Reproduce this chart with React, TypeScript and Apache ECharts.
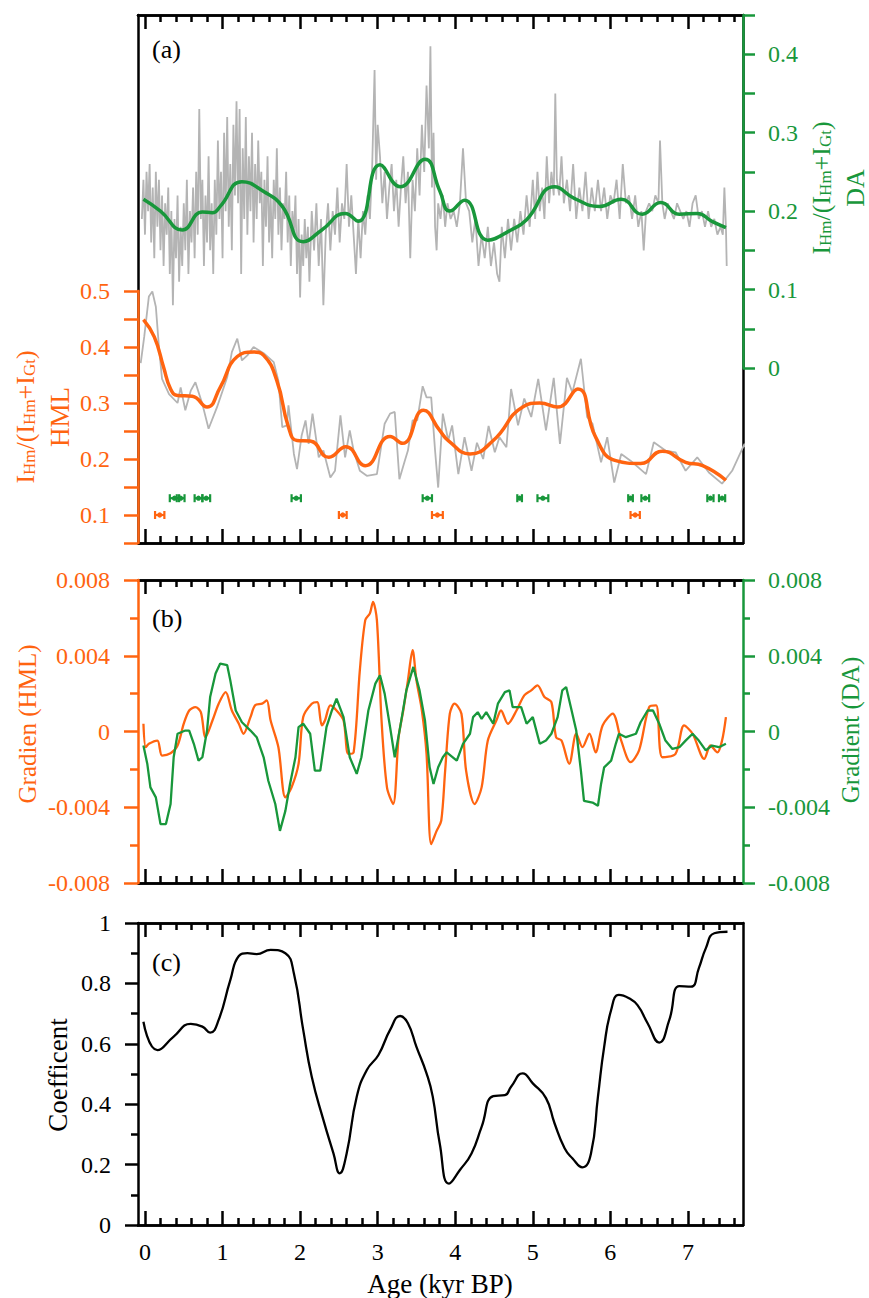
import React, { useEffect, useRef } from 'react';
import * as echarts from 'echarts';

const FONT = "'Liberation Serif', 'Times New Roman', Times, 'DejaVu Serif', serif";
const ORANGE = '#ff6410';
const GREEN = '#18973b';
const GRAY = '#b4b4b4';
const BLACK = '#000000';

const X_MIN = -0.09;
const X_MAX = 7.71;
const X_MAJOR = [0, 1, 2, 3, 4, 5, 6, 7];
const X_MINOR = [0.2, 0.4, 0.6, 0.8, 1.2, 1.4, 1.6, 1.8, 2.2, 2.4, 2.6, 2.8, 3.2, 3.4, 3.6, 3.8, 4.2, 4.4, 4.6, 4.8, 5.2, 5.4, 5.6, 5.8, 6.2, 6.4, 6.6, 6.8, 7.2, 7.4, 7.6];
const HML_LABELS = [0.1, 0.2, 0.3, 0.4, 0.5];
const DA_LABELS = [0, 0.1, 0.2, 0.3, 0.4];

// Panel (a): DA raw (grey, right green axis)
const DA_RAW: number[][] = [
  [-0.04, 0.19], [-0.02, 0.24], [0.0, 0.17], [0.02, 0.25], [0.04, 0.2], [0.06, 0.26], [0.08, 0.16], [0.1, 0.23], [0.12, 0.14], [0.14, 0.25],
  [0.16, 0.18], [0.18, 0.24], [0.2, 0.15], [0.22, 0.22], [0.24, 0.13], [0.26, 0.21], [0.28, 0.17], [0.3, 0.23], [0.32, 0.12], [0.34, 0.2],
  [0.36, 0.08], [0.38, 0.19], [0.4, 0.14], [0.42, 0.22], [0.44, 0.11], [0.46, 0.18], [0.48, 0.13], [0.5, 0.21], [0.52, 0.15], [0.54, 0.24],
  [0.56, 0.12], [0.58, 0.2], [0.6, 0.16], [0.62, 0.23], [0.64, 0.14], [0.66, 0.25], [0.68, 0.17], [0.7, 0.33], [0.72, 0.19], [0.74, 0.24],
  [0.76, 0.13], [0.78, 0.22], [0.8, 0.16], [0.82, 0.27], [0.84, 0.15], [0.86, 0.21], [0.88, 0.12], [0.9, 0.24], [0.92, 0.17], [0.94, 0.29],
  [0.96, 0.19], [0.98, 0.25], [1.0, 0.14], [1.02, 0.3], [1.04, 0.2], [1.06, 0.32], [1.08, 0.18], [1.1, 0.26], [1.12, 0.15], [1.14, 0.31],
  [1.16, 0.22], [1.18, 0.34], [1.2, 0.21], [1.22, 0.33], [1.24, 0.12], [1.26, 0.28], [1.28, 0.19], [1.3, 0.32], [1.32, 0.17], [1.34, 0.27],
  [1.36, 0.2], [1.38, 0.3], [1.4, 0.16], [1.42, 0.26], [1.44, 0.19], [1.46, 0.29], [1.48, 0.21], [1.5, 0.25], [1.52, 0.13], [1.54, 0.24],
  [1.56, 0.18], [1.58, 0.27], [1.6, 0.16], [1.62, 0.22], [1.64, 0.14], [1.66, 0.24], [1.68, 0.19], [1.7, 0.28], [1.72, 0.17], [1.74, 0.23],
  [1.76, 0.15], [1.78, 0.21], [1.8, 0.19], [1.82, 0.25], [1.84, 0.16], [1.86, 0.22], [1.88, 0.13], [1.9, 0.2], [1.92, 0.17], [1.94, 0.22],
  [1.96, 0.12], [1.98, 0.19], [2.0, 0.09], [2.02, 0.17], [2.04, 0.13], [2.06, 0.19], [2.08, 0.14], [2.1, 0.18], [2.12, 0.11], [2.15, 0.2],
  [2.18, 0.15], [2.21, 0.21], [2.24, 0.13], [2.27, 0.19], [2.3, 0.08], [2.33, 0.17], [2.36, 0.21], [2.39, 0.15], [2.42, 0.2], [2.45, 0.17],
  [2.48, 0.23], [2.51, 0.16], [2.54, 0.21], [2.57, 0.19], [2.6, 0.26], [2.63, 0.18], [2.66, 0.22], [2.69, 0.17], [2.72, 0.12], [2.75, 0.19],
  [2.78, 0.14], [2.81, 0.2], [2.84, 0.17], [2.87, 0.22], [2.9, 0.19], [2.93, 0.26], [2.96, 0.38], [2.98, 0.24], [3.0, 0.31], [3.03, 0.27],
  [3.06, 0.21], [3.09, 0.25], [3.12, 0.19], [3.15, 0.23], [3.18, 0.26], [3.21, 0.2], [3.24, 0.24], [3.27, 0.18], [3.3, 0.23], [3.33, 0.27],
  [3.36, 0.21], [3.39, 0.25], [3.42, 0.14], [3.45, 0.24], [3.48, 0.2], [3.51, 0.28], [3.54, 0.22], [3.57, 0.31], [3.6, 0.25], [3.63, 0.36],
  [3.66, 0.28], [3.68, 0.41], [3.7, 0.23], [3.72, 0.3], [3.74, 0.18], [3.76, 0.15], [3.78, 0.21], [3.81, 0.19], [3.84, 0.22], [3.87, 0.18],
  [3.9, 0.21], [3.94, 0.19], [3.98, 0.2], [4.02, 0.18], [4.06, 0.21], [4.1, 0.28], [4.14, 0.21], [4.18, 0.2], [4.22, 0.16], [4.26, 0.19],
  [4.3, 0.13], [4.34, 0.17], [4.38, 0.14], [4.42, 0.18], [4.46, 0.13], [4.5, 0.16], [4.54, 0.12], [4.57, 0.11], [4.6, 0.18], [4.64, 0.14],
  [4.68, 0.19], [4.72, 0.15], [4.76, 0.19], [4.8, 0.16], [4.84, 0.2], [4.88, 0.17], [4.92, 0.22], [4.96, 0.18], [5.0, 0.24], [5.03, 0.19],
  [5.06, 0.25], [5.09, 0.2], [5.12, 0.23], [5.15, 0.19], [5.18, 0.27], [5.21, 0.21], [5.24, 0.25], [5.27, 0.22], [5.29, 0.35], [5.31, 0.24],
  [5.34, 0.22], [5.37, 0.27], [5.4, 0.21], [5.44, 0.24], [5.48, 0.2], [5.52, 0.26], [5.56, 0.19], [5.6, 0.23], [5.64, 0.2], [5.68, 0.25],
  [5.72, 0.19], [5.76, 0.23], [5.8, 0.2], [5.84, 0.24], [5.88, 0.2], [5.92, 0.23], [5.96, 0.19], [6.0, 0.22], [6.04, 0.21], [6.08, 0.24],
  [6.12, 0.19], [6.16, 0.26], [6.2, 0.21], [6.24, 0.22], [6.28, 0.19], [6.32, 0.22], [6.36, 0.18], [6.4, 0.2], [6.43, 0.15], [6.46, 0.2],
  [6.5, 0.21], [6.54, 0.2], [6.58, 0.22], [6.62, 0.21], [6.64, 0.29], [6.67, 0.21], [6.7, 0.19], [6.74, 0.21], [6.78, 0.2], [6.82, 0.19],
  [6.86, 0.21], [6.9, 0.2], [6.94, 0.19], [6.98, 0.2], [7.02, 0.18], [7.06, 0.21], [7.1, 0.22], [7.14, 0.19], [7.18, 0.2], [7.22, 0.18],
  [7.26, 0.2], [7.3, 0.18], [7.34, 0.19], [7.38, 0.17], [7.42, 0.18], [7.45, 0.17], [7.47, 0.23], [7.49, 0.18], [7.5, 0.13],
];

const DA_SMOOTH: number[][] = [
  [-0.02, 0.215], [0.2, 0.2], [0.48, 0.176], [0.74, 0.199], [0.87, 0.198], [0.97, 0.206], [1.25, 0.2375], [1.53, 0.225], [1.77, 0.206],
  [2.04, 0.161], [2.28, 0.176], [2.58, 0.197], [2.75, 0.187], [3.03, 0.259], [3.29, 0.231], [3.61, 0.266], [3.8, 0.226], [3.93, 0.2],
  [4.12, 0.214], [4.42, 0.163], [4.72, 0.176], [4.92, 0.189], [5.28, 0.231], [5.54, 0.216], [5.86, 0.206], [6.14, 0.215], [6.41, 0.196],
  [6.65, 0.211], [6.89, 0.196], [7.12, 0.197], [7.31, 0.187], [7.49, 0.179],
];

// Panel (a): HML raw (grey, left orange axis)
const HML_RAW: number[][] = [
  [-0.055, 0.371], [-0.01, 0.418], [0.05, 0.49], [0.095, 0.499], [0.14, 0.472], [0.18, 0.4], [0.22, 0.343], [0.31, 0.316], [0.42, 0.3],
  [0.46, 0.328], [0.52, 0.287], [0.59, 0.322], [0.65, 0.337], [0.74, 0.298], [0.82, 0.254], [0.93, 0.293], [1.06, 0.346], [1.12, 0.391],
  [1.19, 0.415], [1.25, 0.376], [1.32, 0.385], [1.4, 0.4], [1.53, 0.389], [1.66, 0.373], [1.72, 0.34], [1.77, 0.257], [1.83, 0.26],
  [1.85, 0.296], [1.92, 0.209], [1.96, 0.182], [2.02, 0.242], [2.07, 0.269], [2.11, 0.227], [2.16, 0.281], [2.24, 0.203], [2.3, 0.215],
  [2.39, 0.167], [2.45, 0.179], [2.52, 0.278], [2.58, 0.203], [2.64, 0.251], [2.69, 0.215], [2.77, 0.179], [2.86, 0.17], [2.99, 0.173],
  [3.09, 0.263], [3.16, 0.281], [3.22, 0.284], [3.28, 0.164], [3.35, 0.197], [3.39, 0.215], [3.45, 0.269], [3.51, 0.269], [3.58, 0.33],
  [3.63, 0.31], [3.69, 0.31], [3.74, 0.215], [3.78, 0.149], [3.84, 0.281], [3.91, 0.233], [3.96, 0.26], [4.04, 0.173], [4.12, 0.239],
  [4.21, 0.179], [4.28, 0.229], [4.36, 0.2], [4.43, 0.259], [4.51, 0.212], [4.57, 0.239], [4.66, 0.221], [4.72, 0.325], [4.81, 0.26],
  [4.89, 0.308], [4.98, 0.275], [5.07, 0.343], [5.17, 0.251], [5.27, 0.345], [5.35, 0.227], [5.44, 0.345], [5.51, 0.319], [5.62, 0.379],
  [5.7, 0.275], [5.77, 0.263], [5.88, 0.194], [5.96, 0.239], [6.05, 0.158], [6.14, 0.209], [6.26, 0.197], [6.46, 0.173], [6.56, 0.23],
  [6.71, 0.215], [6.84, 0.212], [6.97, 0.179], [7.12, 0.203], [7.27, 0.176], [7.44, 0.156], [7.57, 0.179], [7.73, 0.227], [7.91, 0.155],
];

const HML_SMOOTH: number[][] = [
  [-0.02, 0.449], [0.12, 0.418], [0.24, 0.364], [0.33, 0.325], [0.42, 0.3135], [0.61, 0.312], [0.8, 0.293], [0.97, 0.328], [1.19, 0.383],
  [1.4, 0.391], [1.53, 0.385], [1.7, 0.34], [1.85, 0.257], [1.96, 0.233], [2.13, 0.232], [2.37, 0.203], [2.59, 0.222], [2.84, 0.188],
  [3.16, 0.24], [3.32, 0.228], [3.59, 0.287], [3.8, 0.251], [3.91, 0.233], [4.19, 0.209], [4.49, 0.233], [4.87, 0.293], [5.09, 0.3],
  [5.32, 0.293], [5.58, 0.325], [5.81, 0.239], [6.07, 0.197], [6.39, 0.192], [6.67, 0.214], [6.97, 0.194], [7.19, 0.188], [7.49, 0.162],
];

// Age error bars: [age, level on HML axis, half width]
const MARK_DA: number[][] = [
  [0.38, 0.13, 0.06], [0.46, 0.13, 0.05], [0.69, 0.13, 0.05], [0.79, 0.13, 0.05], [1.95, 0.13, 0.06], [3.64, 0.13, 0.06],
  [4.83, 0.13, 0.03], [5.13, 0.13, 0.07], [6.26, 0.13, 0.03], [6.45, 0.13, 0.05], [7.29, 0.13, 0.04], [7.44, 0.13, 0.04],
];
const MARK_HML: number[][] = [
  [0.19, 0.1, 0.06], [2.55, 0.1, 0.05], [3.77, 0.1, 0.07], [6.32, 0.1, 0.06],
];

// Panel (b): gradients, in units of 0.001
const GRAD_UNIT = 0.001;
const GRAD_HML: number[][] = [
  [-0.02, 0.41], [0.01, -0.83], [0.05, -0.65], [0.16, -0.48], [0.22, -1.27], [0.33, -1.15], [0.42, -0.74], [0.5, 0.41], [0.57, 1.11],
  [0.65, 1.29], [0.72, 1.02], [0.78, -0.3], [0.87, 0.58], [0.95, 1.47], [1.04, 2.08], [1.12, 1.11], [1.21, 0.41], [1.27, -0.12],
  [1.36, 0.76], [1.42, 1.38], [1.51, 1.47], [1.57, 1.64], [1.62, 0.58], [1.72, -0.83], [1.81, -3.48], [1.89, -2.95], [1.98, -1.71],
  [2.04, 0.76], [2.15, 1.47], [2.22, 1.55], [2.28, 0.32], [2.32, 0.58], [2.39, 1.38], [2.47, 1.11], [2.56, 0.58], [2.62, -1.18],
  [2.69, -1.1], [2.77, 3.23], [2.84, 5.88], [2.9, 6.24], [2.94, 6.85], [2.99, 5.88], [3.05, 0.58], [3.12, -2.95], [3.2, -3.83],
  [3.27, -0.3], [3.33, 1.11], [3.39, 2.7], [3.45, 4.29], [3.5, 2.7], [3.57, 1.11], [3.63, -1.18], [3.69, -5.95], [3.76, -5.25],
  [3.82, -4.7], [3.87, -2.07], [3.93, 0.94], [3.99, 1.47], [4.08, 0.94], [4.14, -2.07], [4.25, -3.83], [4.34, -2.95], [4.42, -0.48],
  [4.53, 0.58], [4.59, 1.11], [4.68, 0.41], [4.79, 1.11], [4.89, 1.91], [4.98, 2.17], [5.06, 2.44], [5.15, 1.82], [5.24, 1.55],
  [5.3, -0.3], [5.37, -0.48], [5.47, -1.71], [5.56, -0.12], [5.64, -0.83], [5.73, -0.12], [5.81, -1.1], [5.9, 0.32], [6.03, 0.94],
  [6.14, -0.48], [6.26, -1.62], [6.37, -1.0], [6.5, 1.29], [6.59, 1.38], [6.67, -1.36], [6.84, -1.18], [6.95, 0.32], [7.06, -0.12],
  [7.21, -1.45], [7.29, -0.74], [7.38, -1.1], [7.44, -0.48], [7.49, 0.76],
];

const GRAD_DA: number[][] = [
  [-0.02, -0.74], [0.03, -1.71], [0.07, -2.95], [0.14, -3.48], [0.2, -4.89], [0.27, -4.89], [0.33, -3.83], [0.37, -1.36], [0.42, -0.12],
  [0.52, 0.05], [0.57, 0.05], [0.63, -0.65], [0.69, -1.54], [0.74, -1.36], [0.8, 0.05], [0.84, 1.82], [0.91, 3.06], [0.97, 3.59],
  [1.06, 3.5], [1.1, 2.7], [1.17, 1.11], [1.25, 0.49], [1.36, 0.05], [1.44, -0.3], [1.53, -1.36], [1.59, -2.6], [1.68, -3.83],
  [1.74, -5.25], [1.81, -4.19], [1.87, -2.77], [1.94, -1.36], [1.98, 0.23], [2.04, 0.41], [2.13, -0.12], [2.19, -2.07], [2.26, -2.07],
  [2.34, 0.23], [2.41, 1.11], [2.47, 1.73], [2.56, 0.76], [2.64, -1.36], [2.73, -2.24], [2.79, -1.36], [2.88, 1.11], [2.97, 2.53],
  [3.03, 2.97], [3.09, 2.0], [3.16, 0.23], [3.22, -1.36], [3.29, 0.23], [3.37, 2.17], [3.46, 3.41], [3.54, 2.17], [3.61, 0.58],
  [3.67, -1.89], [3.72, -2.77], [3.78, -1.89], [3.84, -1.36], [3.89, -1.1], [4.02, -1.54], [4.1, -0.65], [4.19, -0.12], [4.23, 0.76],
  [4.29, 1.02], [4.34, 0.67], [4.4, 1.02], [4.49, 0.41], [4.55, 1.47], [4.64, 2.08], [4.7, 2.17], [4.74, 1.29], [4.85, 1.29],
  [4.92, 0.41], [5.0, 0.76], [5.09, -0.65], [5.17, -0.48], [5.24, -0.12], [5.32, 0.76], [5.38, 2.17], [5.43, 2.35], [5.49, 1.29],
  [5.56, 0.05], [5.62, -2.07], [5.66, -3.66], [5.77, -3.75], [5.84, -3.92], [5.88, -2.77], [5.92, -1.89], [6.01, -1.54], [6.07, -0.65],
  [6.11, -0.12], [6.2, -0.3], [6.33, -0.12], [6.39, 0.49], [6.48, 1.11], [6.55, 1.11], [6.63, 0.41], [6.71, -0.48], [6.8, -0.92],
  [6.89, -0.83], [6.97, -0.48], [7.06, -0.12], [7.14, -0.48], [7.23, -1.0], [7.31, -0.74], [7.4, -0.83], [7.49, -0.65],
];

// Panel (c): coefficient
const COEF: number[][] = [
  [-0.02, 0.673], [0.16, 0.579], [0.37, 0.624], [0.59, 0.666], [0.74, 0.657], [0.84, 0.637], [0.95, 0.679], [1.1, 0.811], [1.21, 0.891],
  [1.32, 0.9], [1.44, 0.897], [1.62, 0.911], [1.81, 0.9], [1.92, 0.833], [2.04, 0.646], [2.15, 0.491], [2.3, 0.348], [2.43, 0.237],
  [2.51, 0.171], [2.6, 0.237], [2.73, 0.425], [2.86, 0.513], [3.01, 0.563], [3.16, 0.646], [3.29, 0.692], [3.39, 0.668], [3.5, 0.59],
  [3.63, 0.502], [3.71, 0.425], [3.8, 0.27], [3.92, 0.137], [4.06, 0.182], [4.21, 0.237], [4.34, 0.325], [4.49, 0.427], [4.64, 0.43],
  [4.72, 0.458], [4.87, 0.502], [5.0, 0.469], [5.17, 0.42], [5.28, 0.337], [5.41, 0.254], [5.51, 0.221], [5.64, 0.191], [5.75, 0.237],
  [5.84, 0.425], [5.92, 0.59], [6.01, 0.712], [6.11, 0.762], [6.24, 0.751], [6.35, 0.728], [6.48, 0.668], [6.63, 0.604], [6.76, 0.679],
  [6.89, 0.791], [7.04, 0.789], [7.14, 0.85], [7.23, 0.916], [7.34, 0.966], [7.51, 0.971],
];

const LEFT = 138;
const WIDTH = 605;

function xFrame(gridIndex: number, position: string, ticks: number[], len: number, labels = false) {
  return {
    type: 'value', gridIndex, position, min: X_MIN, max: X_MAX,
    axisLine: { show: true, onZero: false, lineStyle: { color: BLACK, width: 2.5 } },
    axisTick: { show: true, inside: true, length: len, customValues: ticks, lineStyle: { color: BLACK, width: 2.5 } },
    axisLabel: labels
      ? { show: true, customValues: X_MAJOR, fontFamily: FONT, fontSize: 24, color: BLACK, margin: 15 }
      : { show: false },
    splitLine: { show: false },
  };
}

function xHidden(gridIndex: number) {
  return { type: 'value', gridIndex, min: X_MIN, max: X_MAX, show: false, axisLine: { onZero: false } };
}

function yAxis(gridIndex: number, position: string, color: string, cfg: any) {
  return {
    type: 'value', gridIndex, position,
    axisLine: { show: true, onZero: false, lineStyle: { color, width: 2.5 } },
    axisTick: { show: true, length: 14, lineStyle: { color, width: 2.5 } },
    axisLabel: { show: true, fontFamily: FONT, fontSize: 24, color, margin: 28 },
    splitLine: { show: false },
    ...cfg,
  };
}

function markerSeries(data: number[][], color: string) {
  return {
    type: 'custom', xAxisIndex: 4, yAxisIndex: 2, z: 5, data,
    encode: { x: 0, y: 1 },
    renderItem: (params: any, api: any) => {
      const x = api.value(0);
      const y = api.value(1);
      const hw = api.value(2);
      const c = api.coord([x, y]);
      const l = api.coord([x - hw, y]);
      const r = api.coord([x + hw, y]);
      const st = { stroke: color, lineWidth: 2.2 };
      return {
        type: 'group',
        children: [
          { type: 'line', shape: { x1: l[0], y1: c[1], x2: r[0], y2: c[1] }, style: st },
          { type: 'line', shape: { x1: l[0], y1: c[1] - 4, x2: l[0], y2: c[1] + 4 }, style: st },
          { type: 'line', shape: { x1: r[0], y1: c[1] - 4, x2: r[0], y2: c[1] + 4 }, style: st },
          { type: 'circle', shape: { cx: c[0], cy: c[1], r: 2.6 }, style: { fill: color } },
        ],
      };
    },
  };
}

function richTitle(color: string) {
  return {
    n: { fontFamily: FONT, fontSize: 26, lineHeight: 26, verticalAlign: 'top', fill: color },
    s: { fontFamily: FONT, fontSize: 17, lineHeight: 17, verticalAlign: 'bottom', padding: [11, 0, 0, 0], fill: color },
  };
}
const RATIO_TEXT = '{n|I}{s|Hm}{n|/(I}{s|Hm}{n|+I}{s|Gt}{n|)}';

function vText(x: number, y: number, text: string, color: string, size: number) {
  return {
    type: 'text', x, y, rotation: Math.PI / 2, z: 10,
    style: { text, fill: color, fontFamily: FONT, fontSize: size, align: 'center', verticalAlign: 'middle' },
  };
}

function buildOption() {
  const gridBase = { left: LEFT, width: WIDTH, containLabel: false, outerBoundsMode: 'none' };
  return {
    animation: false,
    backgroundColor: '#ffffff',
    textStyle: { fontFamily: FONT },
    grid: [
      { ...gridBase, top: 15, height: 528 },
      { ...gridBase, top: 291, height: 252 },
      { ...gridBase, top: 15, height: 353 },
      { ...gridBase, top: 580, height: 303 },
      { ...gridBase, top: 923, height: 302 },
    ],
    xAxis: [
      xFrame(0, 'top', X_MAJOR, 14),
      xFrame(0, 'top', X_MINOR, 7),
      xFrame(0, 'bottom', X_MAJOR, 14),
      xFrame(0, 'bottom', X_MINOR, 7),
      xHidden(1),
      xHidden(2),
      xFrame(3, 'top', X_MAJOR, 14),
      xFrame(3, 'top', X_MINOR, 7),
      xFrame(3, 'bottom', X_MAJOR, 14),
      xFrame(3, 'bottom', X_MINOR, 7),
      xFrame(4, 'top', X_MAJOR, 14),
      xFrame(4, 'top', X_MINOR, 7),
      xFrame(4, 'bottom', X_MAJOR, 14, true),
      xFrame(4, 'bottom', X_MINOR, 7),
    ],
    yAxis: [
      yAxis(0, 'left', BLACK, { min: 0, max: 1, axisTick: { show: false }, axisLabel: { show: false }, z: 0 }),
      yAxis(0, 'right', BLACK, { min: 0, max: 1, axisTick: { show: false }, axisLabel: { show: false }, z: 0 }),
      yAxis(1, 'left', ORANGE, {
        min: 0.05, max: 0.5, interval: 0.05, z: 2,
        axisLabel: { show: true, customValues: HML_LABELS, fontFamily: FONT, fontSize: 24, color: ORANGE, margin: 28 },
      }),
      yAxis(2, 'right', GREEN, {
        min: 0, max: 0.45, interval: 0.05, z: 2,
        axisTick: { show: true, length: 12, lineStyle: { color: GREEN, width: 2.5 } },
        axisLabel: { show: true, customValues: DA_LABELS, fontFamily: FONT, fontSize: 24, color: GREEN, margin: 25 },
      }),
      yAxis(3, 'left', ORANGE, {
        min: -0.008, max: 0.008, interval: 0.004, z: 2,
        minorTick: { show: true, splitNumber: 2, length: 8, lineStyle: { color: ORANGE, width: 2.5 } },
      }),
      yAxis(3, 'right', GREEN, {
        min: -0.008, max: 0.008, interval: 0.004, z: 2,
        axisTick: { show: true, length: 12, lineStyle: { color: GREEN, width: 2.5 } },
        minorTick: { show: true, splitNumber: 2, length: 7, lineStyle: { color: GREEN, width: 2.5 } },
        axisLabel: { show: true, fontFamily: FONT, fontSize: 24, color: GREEN, margin: 25 },
      }),
      yAxis(4, 'left', BLACK, {
        min: 0, max: 1, interval: 0.2,
        axisTick: { show: true, length: 13, lineStyle: { color: BLACK, width: 2.5 } },
        minorTick: { show: true, splitNumber: 2, length: 7, lineStyle: { color: BLACK, width: 2.5 } },
        axisLabel: { show: true, fontFamily: FONT, fontSize: 24, color: BLACK, margin: 27 },
      }),
      yAxis(4, 'right', BLACK, { min: 0, max: 1, axisTick: { show: false }, axisLabel: { show: false } }),
    ],
    series: [
      {
        type: 'line', xAxisIndex: 5, yAxisIndex: 3, data: DA_RAW, symbol: 'none', z: 2,
        lineStyle: { color: GRAY, width: 1.8 },
      },
      {
        type: 'line', xAxisIndex: 4, yAxisIndex: 2, data: HML_RAW, symbol: 'none', clip: false, z: 2,
        lineStyle: { color: GRAY, width: 1.8 },
      },
      {
        type: 'line', xAxisIndex: 5, yAxisIndex: 3, data: DA_SMOOTH, symbol: 'none', smooth: 0.5, z: 3,
        lineStyle: { color: GREEN, width: 3.5 },
      },
      {
        type: 'line', xAxisIndex: 4, yAxisIndex: 2, data: HML_SMOOTH, symbol: 'none', smooth: 0.5, z: 3,
        lineStyle: { color: ORANGE, width: 3.5 },
      },
      markerSeries(MARK_DA, GREEN),
      markerSeries(MARK_HML, ORANGE),
      {
        type: 'line', xAxisIndex: 8, yAxisIndex: 4, symbol: 'none', smooth: 0.3, z: 3,
        data: GRAD_HML.map(([x, u]) => [x, u * GRAD_UNIT]),
        lineStyle: { color: ORANGE, width: 2.3 },
      },
      {
        type: 'line', xAxisIndex: 8, yAxisIndex: 5, symbol: 'none', z: 3,
        data: GRAD_DA.map(([x, u]) => [x, u * GRAD_UNIT]),
        lineStyle: { color: GREEN, width: 2.3 },
      },
      {
        type: 'line', xAxisIndex: 12, yAxisIndex: 6, symbol: 'none', smooth: 0.5, z: 3,
        data: COEF, lineStyle: { color: BLACK, width: 2.3 },
      },
    ],
    graphic: [
      { type: 'text', x: 25, y: 417, rotation: Math.PI / 2, z: 10,
        style: { text: RATIO_TEXT, rich: richTitle(ORANGE), fill: ORANGE, align: 'center', verticalAlign: 'middle' } },
      vText(60, 417, 'HML', ORANGE, 27),
      { type: 'text', x: 821, y: 188, rotation: Math.PI / 2, z: 10,
        style: { text: RATIO_TEXT, rich: richTitle(GREEN), fill: GREEN, align: 'center', verticalAlign: 'middle' } },
      vText(855, 188, 'DA', GREEN, 26),
      vText(27, 724, 'Gradien (HML)', ORANGE, 25),
      vText(850, 730, 'Gradient (DA)', GREEN, 25),
      vText(58, 1075, 'Coefficent', BLACK, 27),
      { type: 'text', x: 440, y: 1284, z: 10,
        style: { text: 'Age (kyr BP)', fill: BLACK, fontFamily: FONT, fontSize: 27, align: 'center', verticalAlign: 'middle' } },
      { type: 'text', x: 152, y: 49, z: 10,
        style: { text: '(a)', fill: BLACK, fontFamily: FONT, fontSize: 26, align: 'left', verticalAlign: 'middle' } },
      { type: 'text', x: 152, y: 618, z: 10,
        style: { text: '(b)', fill: BLACK, fontFamily: FONT, fontSize: 26, align: 'left', verticalAlign: 'middle' } },
      { type: 'text', x: 152, y: 962, z: 10,
        style: { text: '(c)', fill: BLACK, fontFamily: FONT, fontSize: 26, align: 'left', verticalAlign: 'middle' } },
    ],
  };
}

export default function App() {
  const ref = useRef<HTMLDivElement>(null);
  useEffect(() => {
    if (!ref.current) return;
    const chart = echarts.init(ref.current, null, { renderer: 'svg' });
    chart.setOption(buildOption() as any);
    return () => chart.dispose();
  }, []);
  return (
    <div
      ref={ref}
      style={{ position: 'absolute', left: 0, top: 0, width: 869, height: 1298, background: '#fff' }}
    />
  );
}
